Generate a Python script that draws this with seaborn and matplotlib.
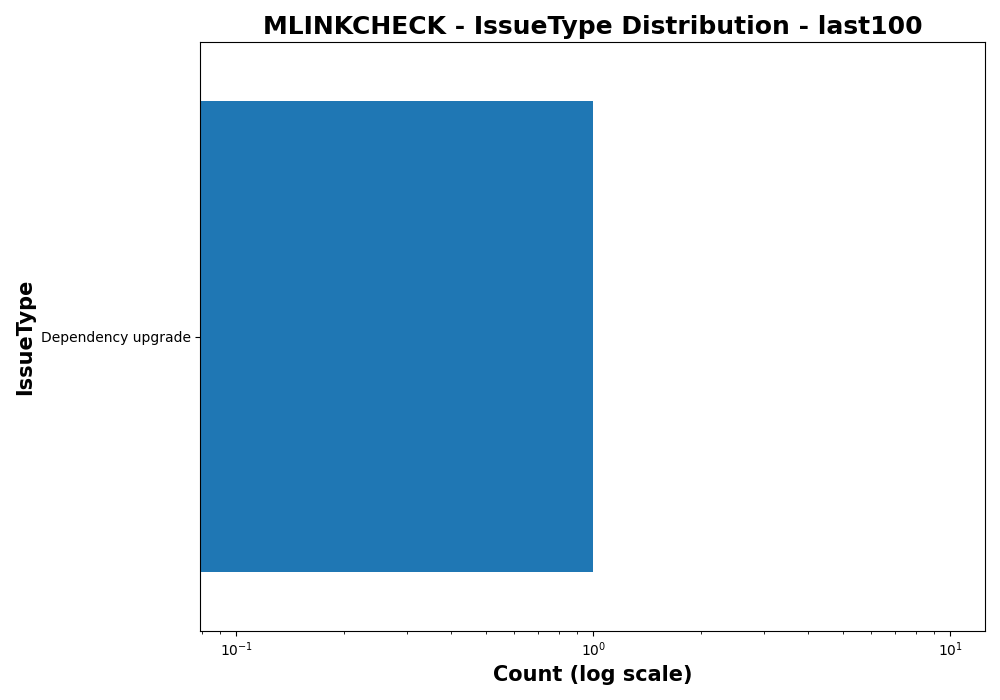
import matplotlib
matplotlib.use('Agg')
import matplotlib.pyplot as plt
import seaborn as sns
import pandas as pd

issue_types = ['Dependency upgrade']
counts = [1]

df = pd.DataFrame({'IssueType': issue_types, 'Count': counts})

fig, ax = plt.subplots(figsize=(10, 7), dpi=100)
sns.barplot(data=df, y='IssueType', x='Count', orient='h', color='#1f77b4',
            saturation=1, width=0.8, ax=ax)
ax.set_xscale('log')
ax.set_xlim(0.0793, 12.5)
ax.set_title('MLINKCHECK - IssueType Distribution - last100', fontsize=18, fontweight='bold')
ax.set_xlabel('Count (log scale)', fontsize=15, fontweight='bold')
ax.set_ylabel('IssueType', fontsize=15, fontweight='bold')
plt.tight_layout()
fig.savefig('out.png')
